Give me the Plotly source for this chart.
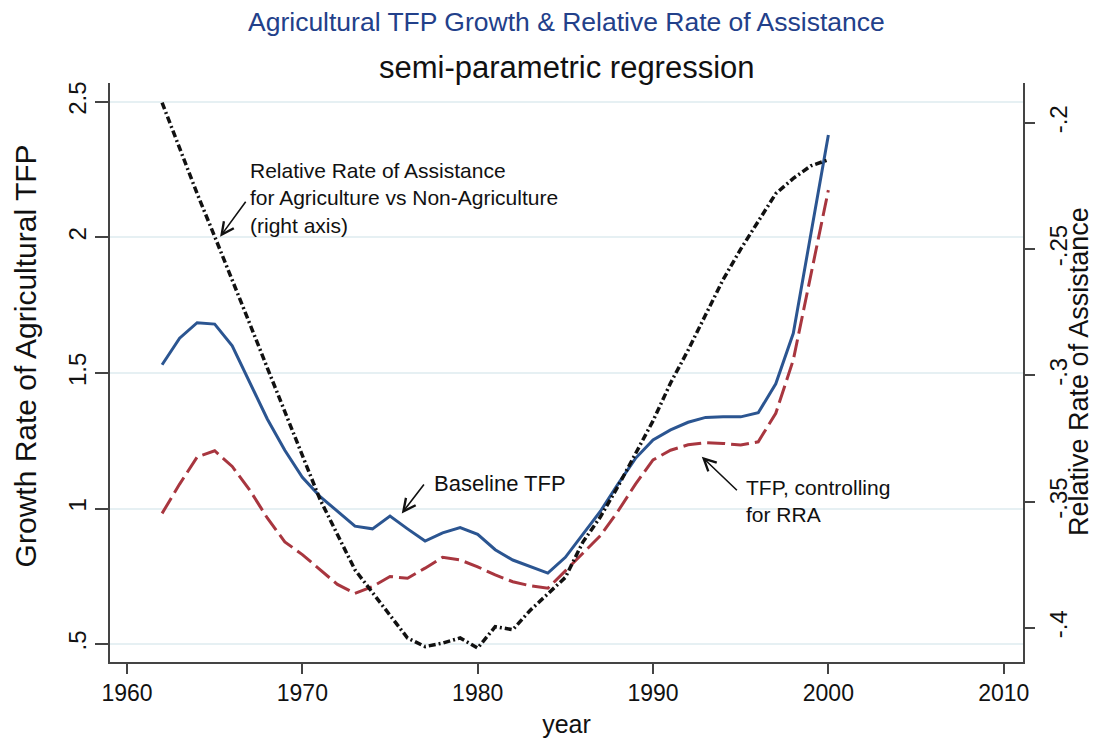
import plotly.graph_objects as go

# ---- data -------------------------------------------------------------
years = list(range(1962, 2001))

tfp_baseline = [1.53, 1.628, 1.685, 1.68, 1.60, 1.462, 1.33, 1.215, 1.115, 1.045,
                0.99, 0.935, 0.925, 0.972, 0.925, 0.88, 0.91, 0.93, 0.905, 0.848,
                0.81, 0.785, 0.762, 0.82, 0.905, 0.99, 1.09, 1.185, 1.253, 1.29,
                1.318, 1.336, 1.338, 1.338, 1.353, 1.46, 1.646, 2.01, 2.377]

tfp_rra = [0.982, 1.09, 1.19, 1.213, 1.155, 1.068, 0.965, 0.877, 0.83, 0.775,
           0.72, 0.687, 0.712, 0.749, 0.743, 0.78, 0.82, 0.81, 0.785, 0.755,
           0.73, 0.715, 0.706, 0.77, 0.835, 0.90, 0.99, 1.09, 1.179, 1.215,
           1.235, 1.243, 1.24, 1.234, 1.246, 1.351, 1.548, 1.86, 2.174]

rra = [-0.192, -0.210, -0.228, -0.245, -0.262, -0.2795, -0.297, -0.3145, -0.332, -0.349,
       -0.363, -0.377, -0.386, -0.395, -0.404, -0.4074, -0.406, -0.404, -0.408, -0.3995,
       -0.4007, -0.393, -0.3865, -0.380, -0.366, -0.356, -0.344, -0.331, -0.318, -0.303,
       -0.290, -0.276, -0.262, -0.250, -0.239, -0.228, -0.222, -0.217, -0.2146]

x_ticks = [1960, 1970, 1980, 1990, 2000, 2010]
left_ticks = [0.5, 1, 1.5, 2, 2.5]
left_labels = [".5", "1", "1.5", "2", "2.5"]
right_ticks = [-0.4, -0.35, -0.3, -0.25, -0.2]
right_labels = ["-.4", "-.35", "-.3", "-.25", "-.2"]

# ---- styling ----------------------------------------------------------
FONT = "Liberation Sans, Arial, Helvetica, sans-serif"
NAVY = "#2b5591"
MAROON = "#a8363f"
AXIS = "#444444"
GRID = "#e6f0f3"
INK = "#111111"

fig = go.Figure()

fig.add_trace(go.Scatter(x=years, y=tfp_baseline, mode="lines", name="Baseline TFP",
                         line=dict(color=NAVY, width=3)))
fig.add_trace(go.Scatter(x=years, y=tfp_rra, mode="lines", name="TFP, controlling for RRA",
                         line=dict(color=MAROON, width=3, dash="18px,6px")))
fig.add_trace(go.Scatter(x=years, y=rra, mode="lines", name="Relative Rate of Assistance",
                         yaxis="y2",
                         line=dict(color=INK, width=3.5, dash="7px,3px,2px,3px")))

fig.update_layout(
    width=1095, height=740,
    margin=dict(l=110, r=72, t=83, b=78),
    paper_bgcolor="white", plot_bgcolor="white",
    showlegend=False,
    font=dict(family=FONT, color=INK),
    xaxis=dict(
        range=[1959.03, 2011.1], tickvals=x_ticks, automargin=False,
        showline=True, linecolor=AXIS, linewidth=1.5,
        ticks="outside", ticklen=10, tickwidth=1.5, tickcolor=AXIS,
        tickfont=dict(size=23, family=FONT, color=INK),
        showgrid=False, zeroline=False,
        title=dict(text="year", font=dict(size=25, family=FONT, color=INK), standoff=10),
    ),
    yaxis=dict(
        range=[0.434, 2.569], tickvals=left_ticks, ticktext=left_labels,
        tickangle=-90, automargin=False,
        showline=True, linecolor=AXIS, linewidth=1.5,
        ticks="outside", ticklen=13, tickwidth=1.5, tickcolor=AXIS,
        tickfont=dict(size=24, family=FONT, color=INK),
        showgrid=True, gridcolor=GRID, gridwidth=2, zeroline=False,
    ),
    yaxis2=dict(
        range=[-0.4135, -0.1842], tickvals=right_ticks, ticktext=right_labels,
        overlaying="y", side="right", tickangle=-90, automargin=False,
        showline=True, linecolor=AXIS, linewidth=1.5,
        ticks="outside", ticklen=10, tickwidth=1.5, tickcolor=AXIS,
        ticklabelstandoff=3,
        tickfont=dict(size=24, family=FONT, color=INK),
        showgrid=False, zeroline=False,
    ),
)


def label(text, x, y, size=21):
    return dict(text=text, xref="x", yref="y", x=x, y=y, xanchor="left", yanchor="middle",
                align="left", showarrow=False, font=dict(size=size, family=FONT, color=INK))


annotations = [
    # titles
    dict(text="Agricultural TFP Growth & Relative Rate of Assistance",
         xref="paper", yref="paper", x=0.5, y=1.105, xanchor="center", yanchor="middle",
         showarrow=False, font=dict(size=26.5, family=FONT, color="#22408a")),
    dict(text="semi-parametric regression",
         xref="paper", yref="paper", x=0.5, y=1.026, xanchor="center", yanchor="middle",
         showarrow=False, font=dict(size=31, family=FONT, color=INK)),
    # axis titles (rotated)
    dict(text="Growth Rate of Agricultural TFP", textangle=-90,
         xref="paper", yref="paper", x=-0.093, y=0.528, xanchor="center", yanchor="middle",
         showarrow=False, font=dict(size=30, family=FONT, color=INK)),
    dict(text="Relative Rate of Assistance", textangle=-90,
         xref="paper", yref="paper", x=1.0613, y=0.5026, xanchor="center", yanchor="middle",
         showarrow=False, font=dict(size=27, family=FONT, color=INK)),
    # curve labels
    label("Relative Rate of Assistance<br>for Agriculture vs Non-Agriculture<br>(right axis)",
          1966.9, 2.1438),
    label("Baseline TFP", 1977.38, 1.0929, size=22),
    label("TFP, controlling<br>for RRA", 1995.16, 1.028),
]

# pointer arrows from each label to its curve
arrows = [
    ((1965.31, 2.002), (1966.83, 2.137)),
    ((1975.67, 0.982), (1977.0, 1.094)),
    ((1992.78, 1.191), (1994.87, 1.062)),
]
for (hx, hy), (tx, ty) in arrows:
    annotations.append(dict(text="", xref="x", yref="y", x=hx, y=hy,
                            axref="x", ayref="y", ax=tx, ay=ty,
                            showarrow=True, arrowhead=5, arrowsize=1.5,
                            arrowwidth=1.6, arrowcolor=INK))

fig.update_layout(annotations=annotations)

fig.write_html("out.html")
